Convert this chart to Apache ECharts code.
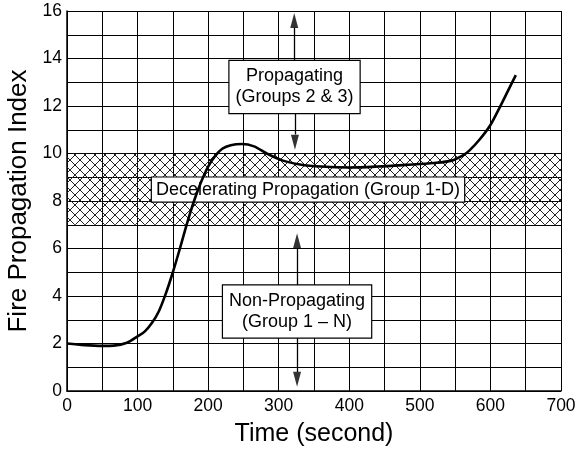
<!DOCTYPE html>
<html><head><meta charset="utf-8">
<script src="https://cdn.jsdelivr.net/npm/echarts@6/dist/echarts.min.js"></script>
<style>html,body{margin:0;padding:0;background:#fff}#c{width:576px;height:451px}</style>
</head><body><div id="c"></div>
<script>
const timeSec = [0,25,50,66,85,100,110,120,130,140,150,160,170,180,190,200,210,220,232,248,265,283,306,330,360,400,440,480,520,545,562,570,585,600,615,625,636];
const fpiValues = [2.0,1.93,1.9,1.91,2.03,2.3,2.5,2.85,3.35,4.1,5.0,6.0,7.05,8.0,8.8,9.45,9.9,10.2,10.35,10.4,10.3,10.0,9.7,9.54,9.45,9.41,9.45,9.52,9.6,9.7,9.94,10.12,10.6,11.2,12.05,12.65,13.3];
const bandRange = [7, 10];
const zoneLabels = ['Propagating\n(Groups 2 & 3)', 'Decelerating Propagation (Group 1-D)', 'Non-Propagating\n(Group 1 \u2013 N)'];
const zoneAnchors = [[322.4, 12.8], [341.5, 8.48], [326, 3.35]];
const arrowSegments = [
  [[322, 13.9], [322, 15.3]],
  [[323, 11.7], [323, 10.8]],
  [[326, 4.42], [326, 6.0]],
  [[326, 2.27], [326, 0.8]]
];
const arrowHeads = [[322, 15.6, 0], [323, 10.47, 180], [326, 6.33, 0], [326, 0.49, 180]];

const pc = document.createElement('canvas');
pc.width = 10; pc.height = 10;
const g = pc.getContext('2d');
g.strokeStyle = '#222'; g.lineWidth = 1;
g.beginPath(); g.moveTo(0,0); g.lineTo(10,10); g.moveTo(10,0); g.lineTo(0,10); g.stroke();

const font = 'Liberation Sans, Arial, Helvetica, sans-serif';
const chart = echarts.init(document.getElementById('c'), null, {renderer:'canvas'});
chart.setOption({
  animation:false,
  grid:{left:67, right:15, top:11, bottom:60, containLabel:false, outerBoundsMode:'none'},
  xAxis:{type:'value', min:0, max:700, interval:50,
    name:'Time (second)', nameLocation:'middle', nameGap:31,
    nameTextStyle:{fontFamily:font, fontSize:25, color:'#000'},
    axisLine:{lineStyle:{color:'#000', width:1.5}}, axisTick:{show:false},
    axisLabel:{fontFamily:font, fontSize:17.5, color:'#000', margin:6, formatter:v=> v%100===0? String(v):''},
    splitLine:{show:true, lineStyle:{color:'#000', width:1}}},
  yAxis:{type:'value', min:0, max:16, interval:1,
    name:'Fire Propagation Index', nameLocation:'middle', nameGap:32,
    nameTextStyle:{fontFamily:font, fontSize:26, color:'#000'},
    axisLine:{show:true, lineStyle:{color:'#000', width:1.5}}, axisTick:{show:false},
    axisLabel:{fontFamily:font, fontSize:17.5, color:'#000', margin:5, formatter:v=> v%2===0? String(v):''},
    splitLine:{show:true, lineStyle:{color:'#000', width:1}}},
  series:[{
    type:'line', data: timeSec.map((t,i)=>[t, fpiValues[i]]), smooth:0.3, symbol:'none',
    lineStyle:{color:'#000', width:2.6}, z:5,
    markArea:{silent:true, itemStyle:{color:{image:pc, repeat:'repeat'}},
      data:[[{yAxis:bandRange[0]},{yAxis:bandRange[1]}]]},
    markLine:{silent:true, symbol:['none','none'],
      lineStyle:{color:'#000', width:1.3, type:'solid'}, label:{show:false},
      data: arrowSegments.map(s=>[{coord:s[0]},{coord:s[1]}])},
    markPoint:{silent:true, symbol:'rect', symbolSize:0,
      data: zoneLabels.map((txt,i)=>({coord:zoneAnchors[i], value:txt,
        label:{show:true, position:'inside', formatter:txt, fontFamily:font, fontSize:18, color:'#000',
          lineHeight:21, align:'center', backgroundColor:'#fff', borderColor:'#000', borderWidth:1.2,
          padding: i===1? [2,4,1,4] : [5,6,5,6]}}))}
  },{
    type:'scatter', silent:true, z:6,
    data: arrowHeads.map(a=>({value:[a[0],a[1]], symbolRotate:a[2]})),
    symbol:'triangle', symbolSize:[8,15], itemStyle:{color:'#000'}
  }]
});
</script></body></html>
